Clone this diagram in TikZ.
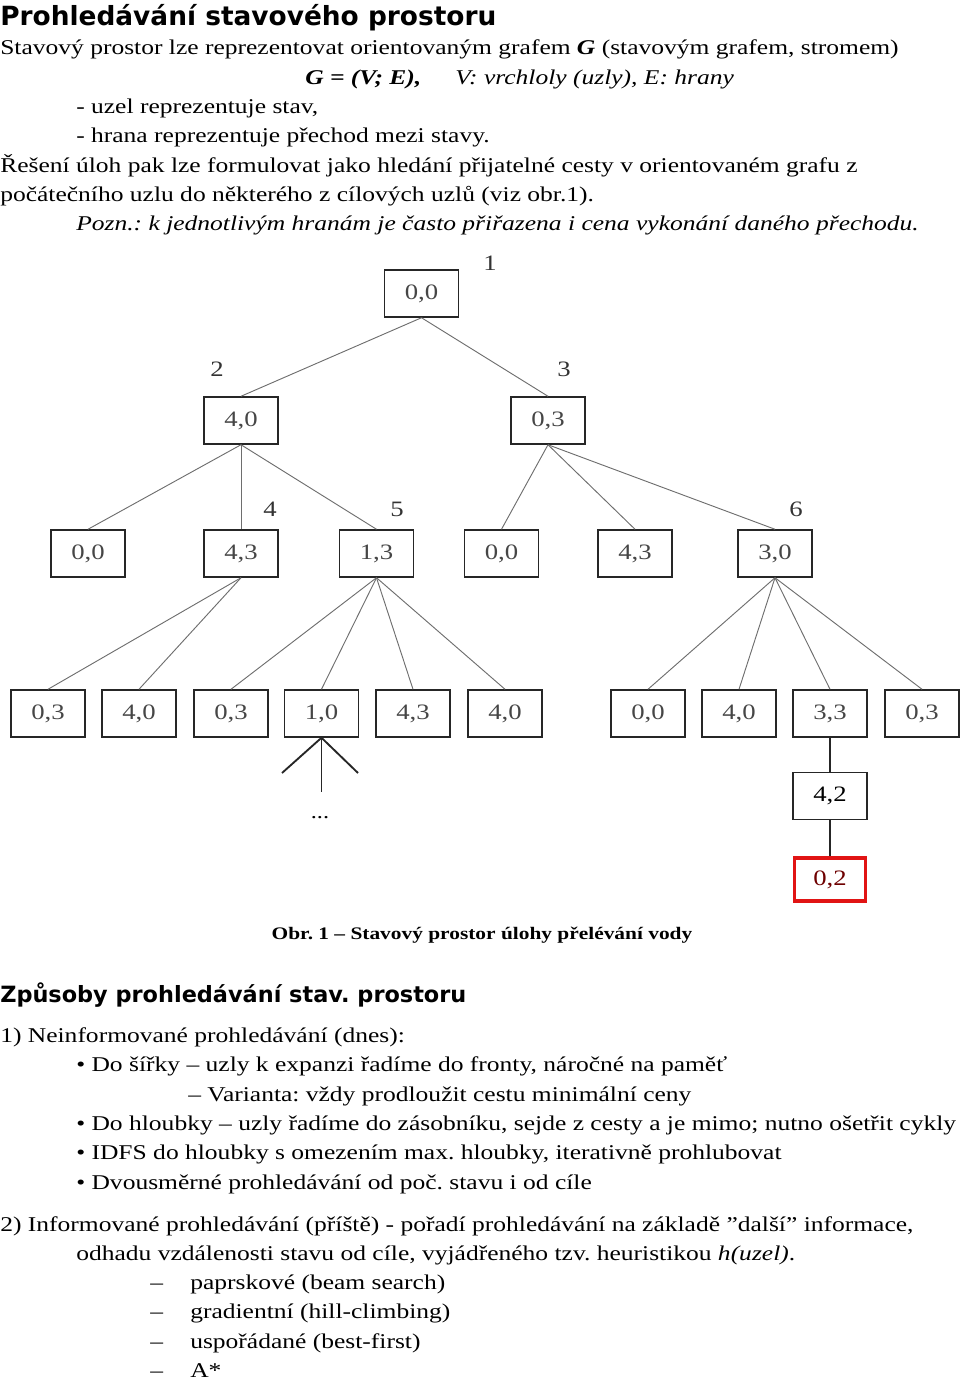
\documentclass[tikz,border=0pt]{standalone}
\usepackage{fontspec}
\setmainfont[FakeStretch=1.215]{Liberation Serif}
\newfontfamily\headfont{DejaVu Sans}
\definecolor{edgegray}{RGB}{110,110,110}
\definecolor{boxtext}{RGB}{70,70,70}
\definecolor{goalred}{RGB}{225,20,20}
\definecolor{goaltext}{RGB}{110,0,0}
\frenchspacing
\begin{document}
\begin{tikzpicture}[x=0.75pt,y=-0.75pt,
  txt/.style={anchor=base west, inner sep=0pt, font=\fontsize{15.75pt}{18pt}\selectfont},
  head/.style={anchor=base west, inner sep=0pt, font=\headfont\bfseries\fontsize{19.8pt}{22pt}\selectfont},
  statebox/.style={draw=black!85, line width=1.1pt, minimum width=55.5pt, minimum height=35.25pt, inner sep=0pt, text=boxtext, font=\fontsize{16.5pt}{18pt}\selectfont},
  num/.style={inner sep=0pt, font=\fontsize{16.5pt}{18pt}\selectfont, text=black!80},
  edge/.style={draw=edgegray, line width=0.7pt},
  thick edge/.style={draw=black!85, line width=1.4pt},
]
\useasboundingbox (0,0) rectangle (960,1381);

% ---------- top text ----------
\node[head] (title) at (0,25) {Prohledávání stavového prostoru};
\node[txt] (l1) at (0,54) {Stavový prostor lze reprezentovat orientovaným grafem \textbf{\textit{G}} (stavovým grafem, stromem)};
\node[txt] (l2a) at (305,84) {\textbf{\textit{G = (V; E),}}};
\node[txt] (l2b) at (455,84) {\textit{V: vrchloly (uzly), E: hrany}};
\node[txt] (l3) at (76,113) {- uzel reprezentuje stav,};
\node[txt] (l4) at (76,142) {- hrana reprezentuje přechod mezi stavy.};
\node[txt] (l5) at (0,172) {Řešení úloh pak lze formulovat jako hledání přijatelné cesty v orientovaném grafu z};
\node[txt] (l6) at (0,201) {počátečního uzlu do některého z cílových uzlů (viz obr.1).};
\node[txt] (l7) at (76,230) {\textit{Pozn.: k jednotlivým hranám je často přiřazena i cena vykonání daného přechodu.}};

% ---------- tree ----------
\node[statebox] (r) at (421.5,293.5) {0,0};
\node[statebox] (a) at (241,420.5) {4,0};
\node[statebox] (b) at (548,420.5) {0,3};

\node[statebox] (a1) at (88,553.5) {0,0};
\node[statebox] (a2) at (241,553.5) {4,3};
\node[statebox] (a3) at (376.5,553.5) {1,3};
\node[statebox] (b1) at (501.5,553.5) {0,0};
\node[statebox] (b2) at (635,553.5) {4,3};
\node[statebox] (b3) at (775,553.5) {3,0};

\node[statebox] (c1) at (48,713.5) {0,3};
\node[statebox] (c2) at (139,713.5) {4,0};
\node[statebox] (c3) at (231,713.5) {0,3};
\node[statebox] (c4) at (321.5,713.5) {1,0};
\node[statebox] (c5) at (413,713.5) {4,3};
\node[statebox] (c6) at (505,713.5) {4,0};
\node[statebox] (c7) at (648,713.5) {0,0};
\node[statebox] (c8) at (739,713.5) {4,0};
\node[statebox] (c9) at (830,713.5) {3,3};
\node[statebox] (c10) at (922,713.5) {0,3};

\node[statebox, text=black] (d1) at (830,796) {4,2};
\node[statebox, draw=goalred, line width=2.6pt, minimum width=53pt, minimum height=32.5pt, text=goaltext] (d2) at (830,879.5) {0,2};

\node[num] (n1) at (490,263) {1};
\node[num] (n2) at (217,369) {2};
\node[num] (n3) at (564,369) {3};
\node[num] (n4) at (270,509) {4};
\node[num] (n5) at (397,509) {5};
\node[num] (n6) at (796,509) {6};

\draw[edge] (r.south) -- (a.north);
\draw[edge] (r.south) -- (b.north);
\draw[edge] (a.south) -- (a1.north);
\draw[edge] (a.south) -- (a2.north);
\draw[edge] (a.south) -- (a3.north);
\draw[edge] (b.south) -- (b1.north);
\draw[edge] (b.south) -- (b2.north);
\draw[edge] (b.south) -- (b3.north);
\draw[edge] (a2.south) -- (c1.north);
\draw[edge] (a2.south) -- (c2.north);
\draw[edge] (a3.south) -- (c3.north);
\draw[edge] (a3.south) -- (c4.north);
\draw[edge] (a3.south) -- (c5.north);
\draw[edge] (a3.south) -- (c6.north);
\draw[edge] (b3.south) -- (c7.north);
\draw[edge] (b3.south) -- (c8.north);
\draw[edge] (b3.south) -- (c9.north);
\draw[edge] (b3.south) -- (c10.north);
\draw[thick edge] (c9.south) -- (d1.north);
\draw[thick edge] (d1.south) -- (d2.north);

\coordinate (f1) at (282,773);
\coordinate (f2) at (358,773);
\coordinate (f3) at (321.5,792);
\draw[thick edge] (c4.south) -- (f1);
\draw[thick edge] (c4.south) -- (f2);
\draw[thick edge] (c4.south) -- (f3);
\node[inner sep=0pt, font=\fontsize{15pt}{18pt}\selectfont] (dots) at (320,818) {...};

\node[anchor=base, inner sep=0pt, font=\bfseries\fontsize{13.2pt}{18pt}\selectfont] (cap) at (482,939) {Obr. 1 – Stavový prostor úlohy přelévání vody};

% ---------- bottom text ----------
\node[head, font=\headfont\bfseries\fontsize{16.8pt}{20pt}\selectfont] (h2) at (0,1002) {Způsoby prohledávání stav. prostoru};
\node[txt] (m1) at (0,1042) {1) Neinformované prohledávání (dnes):};
\node[txt] (m2) at (76,1071) {• Do šířky – uzly k expanzi řadíme do fronty, náročné na paměť};
\node[txt] (m3) at (188,1101) {– Varianta: vždy prodloužit cestu minimální ceny};
\node[txt] (m4) at (76,1130) {• Do hloubky – uzly řadíme do zásobníku, sejde z cesty a je mimo; nutno ošetřit cykly};
\node[txt] (m5) at (76,1159) {• IDFS do hloubky s omezením max. hloubky, iterativně prohlubovat};
\node[txt] (m6) at (76,1189) {• Dvousměrné prohledávání od poč. stavu i od cíle};
\node[txt] (m7) at (0,1231) {2) Informované prohledávání (příště) - pořadí prohledávání na základě ”další” informace,};
\node[txt] (m8) at (76,1260) {odhadu vzdálenosti stavu od cíle, vyjádřeného tzv. heuristikou \textit{h(uzel)}.};
\node[txt] (k1d) at (150,1289) {–};
\node[txt] (k1) at (190,1289) {paprskové (beam search)};
\node[txt] (k2d) at (150,1318) {–};
\node[txt] (k2) at (190,1318) {gradientní (hill-climbing)};
\node[txt] (k3d) at (150,1348) {–};
\node[txt] (k3) at (190,1348) {uspořádané (best-first)};
\node[txt] (k4d) at (150,1377) {–};
\node[txt] (k4) at (190,1377) {A*};
\end{tikzpicture}
\end{document}
